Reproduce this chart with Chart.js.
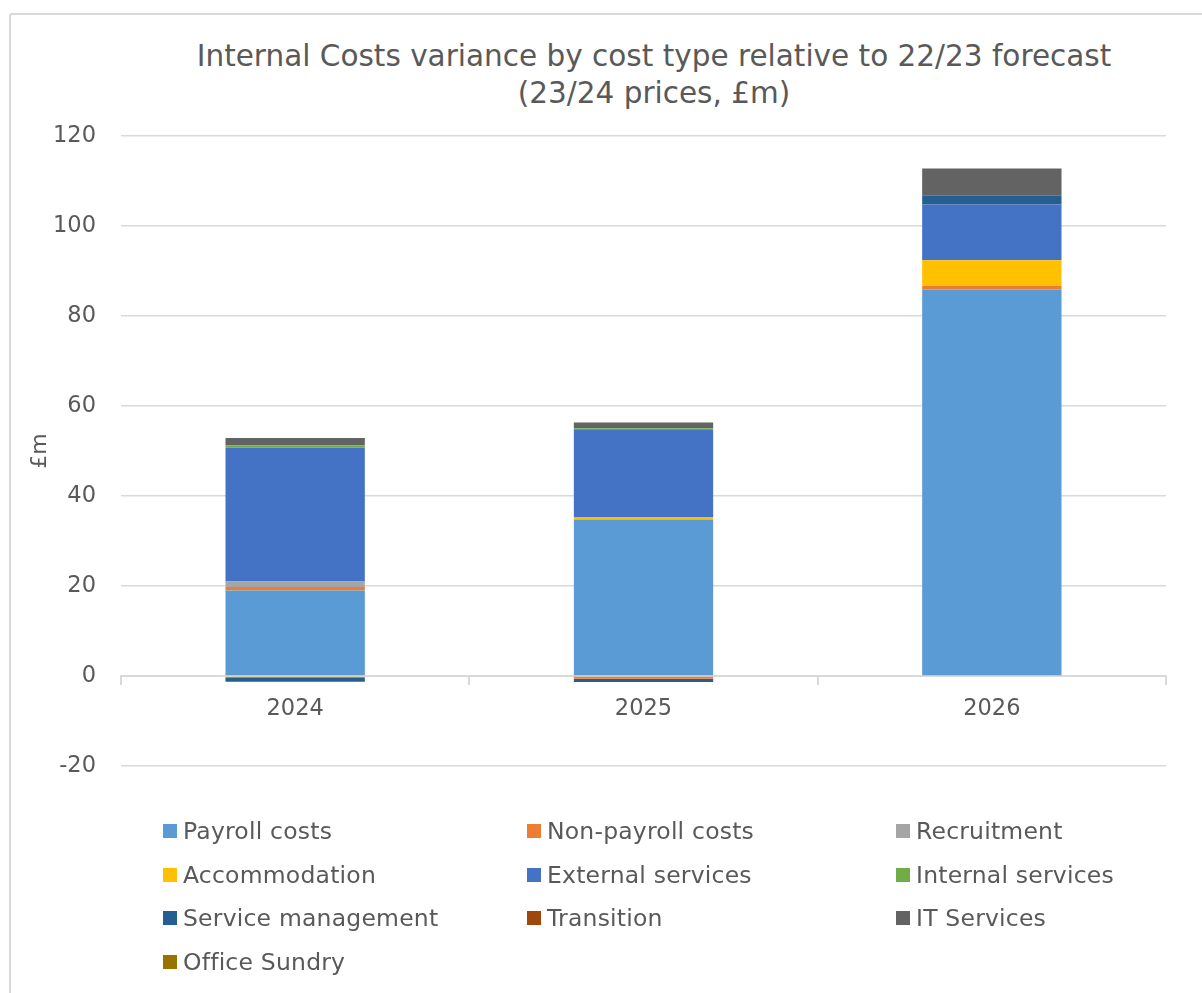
<!DOCTYPE html>
<html>
<head>
<meta charset="utf-8">
<script src="https://cdn.jsdelivr.net/npm/chart.js@4"></script>
<style>
  html, body { margin: 0; padding: 0; background: #fff; overflow: hidden; }
  #wrap { position: relative; width: 1202px; height: 993px; }
  #frame { position: absolute; left: 9px; top: 13px; width: 1200px; height: 1000px;
           border: 2px solid #d9d9d9; border-radius: 3px; box-sizing: border-box; }
  #title { position: absolute; left: 154px; width: 1000px; top: 38px; text-align: center;
           white-space: nowrap; font: 29.5px "DejaVu Sans", Verdana, sans-serif;
           color: #595959; line-height: 37px; }
  #legend { position: absolute; left: 163px; top: 809px; display: grid;
            grid-template-columns: 364px 369px 300px; grid-auto-rows: 43.7px;
            font: 23.5px "DejaVu Sans", Verdana, sans-serif; letter-spacing: 0.2px; color: #595959; }
  #legend .item { display: flex; align-items: center; white-space: nowrap; }
  #legend .box { width: 14px; height: 14px; margin-right: 6px; flex: none; }
  canvas { position: absolute; left: 0; top: 0; }
</style>
</head>
<body>
<div id="wrap">
  <div id="frame"></div>
  <div id="title">Internal Costs variance by cost type relative to 22/23 forecast<br>(23/24 prices, £m)</div>
  <canvas id="chart" width="1202" height="993"></canvas>
  <div id="legend"></div>
</div>
<script>
const categories = ["2024", "2025", "2026"];

const payrollCosts      = [19.0, 34.8, 85.9];
const nonPayrollCosts   = [0.8, -0.6, 0.8];
const recruitment       = [1.2, 0, 0];
const accommodation     = [-0.3, 0.45, 5.7];
const externalServices  = [29.7, 19.6, 12.4];
const internalServices  = [0.6, 0.2, 0];
const serviceManagement = [-1.0, -0.75, 1.9];
const transition        = [0, 0, 0];
const itServices        = [1.6, 1.3, 6.1];
const officeSundry      = [0, 0, 0];

const seriesNames = ["Payroll costs", "Non-payroll costs", "Recruitment", "Accommodation",
  "External services", "Internal services", "Service management", "Transition",
  "IT Services", "Office Sundry"];
const seriesValues = [payrollCosts, nonPayrollCosts, recruitment, accommodation,
  externalServices, internalServices, serviceManagement, transition, itServices, officeSundry];
const seriesColors = ["#5B9BD5", "#ED7D31", "#A5A5A5", "#FFC000", "#4472C4",
  "#70AD47", "#255E91", "#9E480E", "#636363", "#997300"];

const yTicks = [-20, 0, 20, 40, 60, 80, 100, 120];

const FONT = "'DejaVu Sans', Verdana, sans-serif";
const GRID = "#d9d9d9";
const TEXT = "#595959";

const datasets = seriesNames.map((name, i) => ({
  label: name,
  data: seriesValues[i],
  backgroundColor: seriesColors[i],
  borderWidth: 0,
  categoryPercentage: 0.4,
  barPercentage: 1.0
}));

new Chart(document.getElementById("chart"), {
  type: "bar",
  data: { labels: categories, datasets },
  options: {
    responsive: false,
    animation: false,
    layout: { padding: { top: 136, bottom: 227, right: 36, left: 0 } },
    plugins: {
      legend: { display: false },
      title: { display: false },
      tooltip: { enabled: false }
    },
    scales: {
      x: {
        stacked: true,
        position: { y: 0 },
        grid: { display: true, drawOnChartArea: false, drawTicks: true, tickLength: 8,
                offset: true, color: GRID, lineWidth: 2 },
        border: { display: true, color: GRID, width: 2 },
        ticks: { color: TEXT, font: { family: FONT, size: 22.5 }, padding: 12 }
      },
      y: {
        stacked: true,
        min: yTicks[0],
        max: yTicks[yTicks.length - 1],
        afterBuildTicks: (scale) => { scale.ticks = yTicks.map(v => ({ value: v })); },
        afterFit: (scale) => { scale.width = 121; },
        grid: { color: GRID, lineWidth: 1.5, drawTicks: false },
        border: { display: false },
        ticks: { color: TEXT, font: { family: FONT, size: 22.5 }, padding: 25 },
        title: { display: true, text: "£m", color: TEXT, font: { family: FONT, size: 22 },
                 padding: { top: 27, bottom: 0 } }
      }
    }
  }
});

// legend laid out in three columns like the original
const legendEl = document.getElementById("legend");
seriesNames.forEach((name, i) => {
  const item = document.createElement("div");
  item.className = "item";
  const box = document.createElement("span");
  box.className = "box";
  box.style.background = seriesColors[i];
  item.appendChild(box);
  item.appendChild(document.createTextNode(name));
  legendEl.appendChild(item);
});
</script>
</body>
</html>
